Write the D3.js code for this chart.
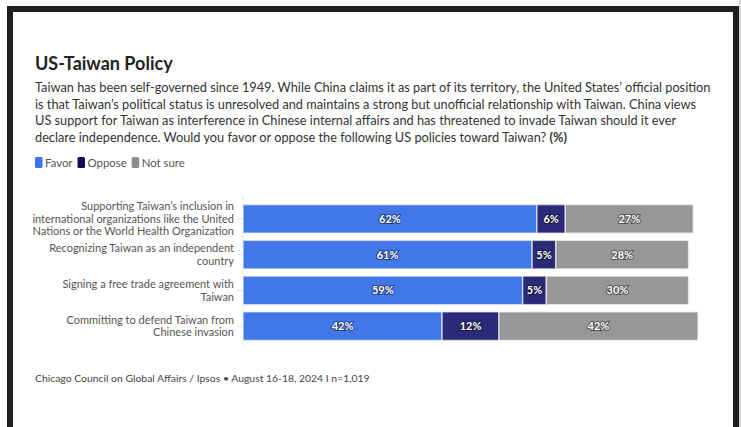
<!DOCTYPE html>
<html lang="en">
<head>
<meta charset="utf-8">
<title>US-Taiwan Policy</title>
<style>
  body { margin: 0; background: #fff; }
  svg text { font-family: Lato, "Noto Sans", sans-serif; }
  .frame { fill: none; stroke: #231f20; stroke-width: 6px; }
  .title { font-size: 18px; font-weight: bold; fill: #222; }
  .sub { font-size: 12.75px; fill: #333; }
  .legend text { font-size: 11.4px; fill: #555; }
  .cat { font-size: 11px; fill: #555; text-anchor: end; }
  .val { font-size: 11px; font-weight: bold; fill: #fff; text-anchor: middle;
         paint-order: stroke; stroke: rgba(0,0,0,0.45); stroke-width: 2px; }
  .src { font-size: 10.4px; fill: #444; }
  .axis line, .axis path { stroke: #e4e4e4; }
</style>
<script src="https://d3js.org/d3.v7.min.js"></script>
</head>
<body>
<script>
var w = 741, h = 427;

var categories = [
  ["Supporting Taiwan\u2019s inclusion in", "international organizations like the United", "Nations or the World Health Organization"],
  ["Recognizing Taiwan as an independent", "country"],
  ["Signing a free trade agreement with", "Taiwan"],
  ["Committing to defend Taiwan from", "Chinese invasion"]
];
var series = ["Favor", "Oppose", "Not sure"];
var favor = [62, 61, 59, 42];
var oppose = [6, 5, 5, 12];
var notSure = [27, 28, 30, 42];
var colors = ["#4277e9", "#2b2a79", "#979797"];
var legendColors = ["#3a70f2", "#0e0d5c", "#8f8f8f"];

var subtitle = [
  "Taiwan has been self-governed since 1949. While China claims it as part of its territory, the United States\u2019 official position",
  "is that Taiwan\u2019s political status is unresolved and maintains a strong but unofficial relationship with Taiwan. China views",
  "US support for Taiwan as interference in Chinese internal affairs and has threatened to invade Taiwan should it ever",
  "declare independence. Would you favor or oppose the following US policies toward Taiwan? "
];
var source = "Chicago Council on Global Affairs / Ipsos \u2022 August 16-18, 2024 I n=1,019";

var svg = d3.select("body").append("svg")
  .attr("width", w).attr("height", h);

// frame
svg.append("rect").attr("class", "frame")
  .attr("x", 10).attr("y", 9).attr("width", 726).attr("height", 440);
svg.append("rect").attr("x", 739).attr("y", 0).attr("width", 2).attr("height", h).attr("fill", "#d6d6d6");

svg.append("text").attr("class", "title")
  .attr("x", 35).attr("y", 70).text("US-Taiwan Policy");

var sub = svg.append("g");
subtitle.forEach(function(line, i) {
  var t = sub.append("text").attr("class", "sub")
    .attr("x", 35).attr("y", 92 + i * 16.5).text(line);
  if (i == subtitle.length - 1) {
    t.append("tspan").attr("font-weight", "bold").text("(%)");
  }
});

// legend
var lg = svg.append("g").attr("class", "legend");
var lx = 35;
series.forEach(function(s, i) {
  lg.append("rect").attr("x", lx).attr("y", 157).attr("width", 7.5).attr("height", 11)
    .attr("rx", 1.5).attr("fill", legendColors[i]);
  var t = lg.append("text").attr("x", lx + 10).attr("y", 166.5).text(s);
  lx += 10 + t.node().getComputedTextLength() + 5;
});

// chart
var rows = categories.map(function(c, i) {
  return { i: i, label: c, vals: [favor[i], oppose[i], notSure[i]] };
});

var x = d3.scaleLinear().domain([0, 100]).range([243, 717]);
var y = d3.scaleBand().domain(d3.range(rows.length)).range([201, 344]).paddingInner(0.2).paddingOuter(0.1);

var axis = svg.append("g").attr("class", "axis")
  .attr("transform", "translate(" + x(0) + ",0)")
  .call(d3.axisLeft(y).tickSize(6).tickFormat(""));
axis.select(".domain").attr("d", "M0,196V346");

var rowG = svg.selectAll(".row").data(rows).enter().append("g").attr("class", "row");

rowG.each(function(d) {
  var g = d3.select(this);
  var acc = 0;
  d.vals.forEach(function(v, k) {
    var x0 = x(acc), x1 = x(acc + v);
    g.append("rect")
      .attr("x", x0).attr("y", y(d.i))
      .attr("width", x1 - x0).attr("height", y.bandwidth())
      .attr("fill", colors[k])
      .attr("stroke", "#fff").attr("stroke-opacity", 0.6).attr("stroke-width", 1.5);
    g.append("text").attr("class", "val")
      .attr("x", (x0 + x1) / 2).attr("y", y(d.i) + y.bandwidth() / 2 + 4)
      .text(v + "%");
    acc += v;
  });
  var n = d.label.length, lh = 12.4;
  d.label.forEach(function(line, j) {
    g.append("text").attr("class", "cat")
      .attr("x", 234)
      .attr("y", y(d.i) + y.bandwidth() / 2 + 4 + (j - (n - 1) / 2) * lh)
      .text(line);
  });
});

svg.append("text").attr("class", "src")
  .attr("x", 35).attr("y", 382).text(source);
</script>
</body>
</html>
